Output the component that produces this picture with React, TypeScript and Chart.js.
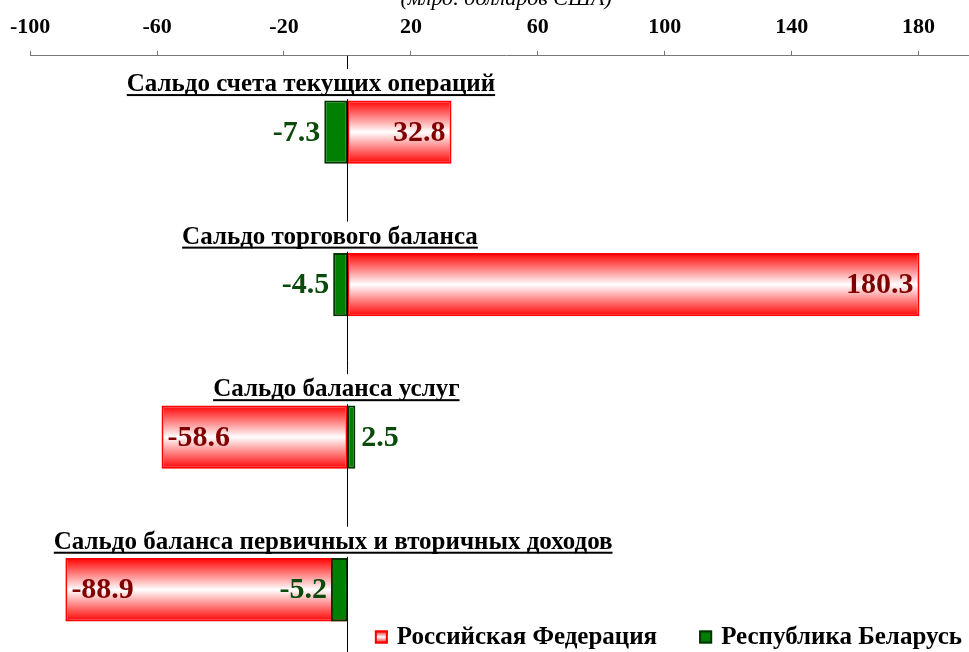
import React, { useEffect, useRef } from 'react';
import { Chart, registerables } from 'chart.js';

Chart.register(...registerables);

// ---- Data ----
const categories = [
  'Сальдо счета текущих операций',
  'Сальдо торгового баланса',
  'Сальдо баланса услуг',
  'Сальдо баланса первичных и вторичных доходов',
];
const seriesNames = ['Российская Федерация', 'Республика Беларусь'];
const russiaValues = [32.8, 180.3, -58.6, -88.9];
const belarusValues = [-7.3, -4.5, 2.5, -5.2];
const tickValues = [-100, -60, -20, 20, 60, 100, 140, 180];
const axisTitle = '(млрд. долларов США)';

// ---- Style constants ----
const FONT = '"Liberation Serif", "Times New Roman", serif';
const BAR_PCT = 0.415;
const VIEW_W = 969;
const VIEW_H = 652;
const CANVAS_W = 984;
const CANVAS_H = 666;
const CATEGORY_LABEL_ANCHOR = [-11.5, -5.5, -3.5, -4.5]; // horizontal anchor (axis units) for category captions

function redGradient(ctx: CanvasRenderingContext2D, top: number, bottom: number) {
  const g = ctx.createLinearGradient(0, top, 0, bottom);
  g.addColorStop(0, '#ff0000');
  g.addColorStop(0.5, '#ffffff');
  g.addColorStop(1, '#ff0000');
  return g;
}

const captionPlugin = {
  id: 'captions',
  afterDatasetsDraw(chart: any) {
    const ctx = chart.ctx as CanvasRenderingContext2D;
    const xs = chart.scales.x;
    const ys = chart.scales.y;
    const area = chart.chartArea;
    // zero line
    const x0 = Math.round(xs.getPixelForValue(0)) + 0.5;
    ctx.save();
    ctx.strokeStyle = '#000';
    ctx.lineWidth = 1;
    ctx.beginPath();
    ctx.moveTo(x0, area.top);
    ctx.lineTo(x0, chart.height);
    ctx.stroke();
    ctx.restore();

    // category captions
    ctx.save();
    ctx.font = `bold 25px ${FONT}`;
    ctx.textAlign = 'center';
    ctx.textBaseline = 'alphabetic';
    categories.forEach((cat, i) => {
      const c = ys.getPixelForValue(i);
      const cx = xs.getPixelForValue(CATEGORY_LABEL_ANCHOR[i]);
      const base = c - 41;
      const w = ctx.measureText(cat).width;
      ctx.fillStyle = '#fff';
      ctx.fillRect(cx - w / 2 - 2, base - 22, w + 4, 30);
      ctx.fillStyle = '#000';
      ctx.fillText(cat, cx, base);
      ctx.fillRect(cx - w / 2, base + 3, w, 2);
    });
    ctx.restore();

    // value labels
    ctx.save();
    ctx.font = `bold 30px ${FONT}`;
    ctx.textBaseline = 'middle';
    chart.data.datasets.forEach((ds: any, di: number) => {
      const meta = chart.getDatasetMeta(di);
      meta.data.forEach((el: any, i: number) => {
        const v = ds.data[i] as number;
        const txt = v.toFixed(1);
        const { x, y } = el.getProps(['x', 'y'], true);
        const ty = y + 1;
        if (di === 0) {
          ctx.fillStyle = '#800000';
          if (v >= 0) {
            ctx.textAlign = 'right';
            ctx.fillText(txt, x - 6, ty);
          } else {
            ctx.textAlign = 'left';
            ctx.fillText(txt, x + 6, ty);
          }
        } else {
          ctx.fillStyle = '#0a4a0a';
          if (v >= 0) {
            ctx.textAlign = 'left';
            ctx.fillText(txt, x + 6, ty);
          } else {
            ctx.textAlign = 'right';
            ctx.fillText(txt, x - 4, ty);
          }
        }
      });
    });
    ctx.restore();
  },
  afterDraw(chart: any) {
    // legend (anchored to the visible viewport's bottom-right)
    const ctx = chart.ctx as CanvasRenderingContext2D;
    ctx.save();
    ctx.font = `bold 25px ${FONT}`;
    ctx.textBaseline = 'middle';
    ctx.textAlign = 'left';
    const cy = VIEW_H - 15;
    const box = 13;
    const gapBoxText = 9;
    const gapItems = 42;
    const widths = seriesNames.map((n) => box + gapBoxText + ctx.measureText(n).width);
    const total = widths.reduce((a, b) => a + b, 0) + gapItems;
    let x = VIEW_W - 7 - total;
    seriesNames.forEach((n, i) => {
      const top = cy - box / 2;
      if (i === 0) {
        ctx.fillStyle = redGradient(ctx, top, top + box);
        ctx.fillRect(x, top, box, box);
        ctx.strokeStyle = '#ff0000';
      } else {
        ctx.fillStyle = '#008000';
        ctx.fillRect(x, top, box, box);
        ctx.strokeStyle = '#003300';
      }
      ctx.lineWidth = 2;
      ctx.strokeRect(x + 1, top + 1, box - 2, box - 2);
      ctx.fillStyle = '#000';
      ctx.fillText(n, x + box + gapBoxText, cy + 1);
      x += widths[i] + gapItems;
    });
    ctx.restore();
  },
};

export default function App() {
  const canvasRef = useRef<HTMLCanvasElement | null>(null);

  useEffect(() => {
    const canvas = canvasRef.current;
    if (!canvas) return;
    const chart = new Chart(canvas, {
      type: 'bar',
      data: {
        labels: categories,
        datasets: [
          {
            label: seriesNames[0],
            data: russiaValues,
            order: 1,
            backgroundColor: (c: any) => {
              const ch = c.chart;
              const ys = ch.scales && ch.scales.y;
              if (c.type !== 'data' || !ys || !ch.chartArea) return '#ff8080';
              const center = ys.getPixelForValue(c.dataIndex);
              const band = Math.abs(ys.getPixelForValue(1) - ys.getPixelForValue(0));
              const h = (band * BAR_PCT) / 2;
              return redGradient(ch.ctx, center - h, center + h);
            },
            borderColor: '#ff0000',
            borderWidth: 2,
            borderSkipped: false,
            categoryPercentage: 1,
            barPercentage: BAR_PCT,
          } as any,
          {
            label: seriesNames[1],
            data: belarusValues,
            order: 0,
            backgroundColor: '#008000',
            borderColor: '#003300',
            borderWidth: 2,
            borderSkipped: false,
            categoryPercentage: 1,
            barPercentage: BAR_PCT,
          } as any,
        ],
      },
      options: {
        indexAxis: 'y',
        animation: false,
        responsive: false,
        maintainAspectRatio: false,
        devicePixelRatio: 1,
        layout: { padding: { left: 30, right: 2, top: -14, bottom: 0 } },
        plugins: {
          legend: { display: false },
          tooltip: { enabled: false },
        },
        scales: {
          x: {
            type: 'linear',
            position: 'top',
            min: -100,
            max: 200,
            stacked: false,
            afterBuildTicks: (s: any) => {
              s.ticks = tickValues.map((v) => ({ value: v }));
            },
            grid: {
              drawOnChartArea: false,
              drawTicks: true,
              tickLength: 5,
              color: '#777',
            },
            border: { display: true, color: '#777', width: 1 },
            ticks: {
              color: '#000',
              padding: 10,
              maxRotation: 0,
              font: { family: FONT, size: 22, weight: 'bold' },
            },
            title: {
              display: true,
              text: axisTitle,
              color: '#000',
              font: { family: FONT, size: 22, style: 'italic' },
              padding: { top: 0, bottom: -8 },
            },
          } as any,
          y: {
            type: 'category',
            display: false,
            stacked: true,
            offset: true,
          } as any,
        },
      } as any,
      plugins: [captionPlugin],
    });
    return () => chart.destroy();
  }, []);

  return (
    <div
      style={{
        position: 'fixed',
        left: 0,
        top: 0,
        width: VIEW_W,
        height: VIEW_H,
        overflow: 'hidden',
        background: '#fff',
      }}
    >
      <canvas
        ref={canvasRef}
        width={CANVAS_W}
        height={CANVAS_H}
        style={{ display: 'block', width: CANVAS_W, height: CANVAS_H }}
      />
    </div>
  );
}
